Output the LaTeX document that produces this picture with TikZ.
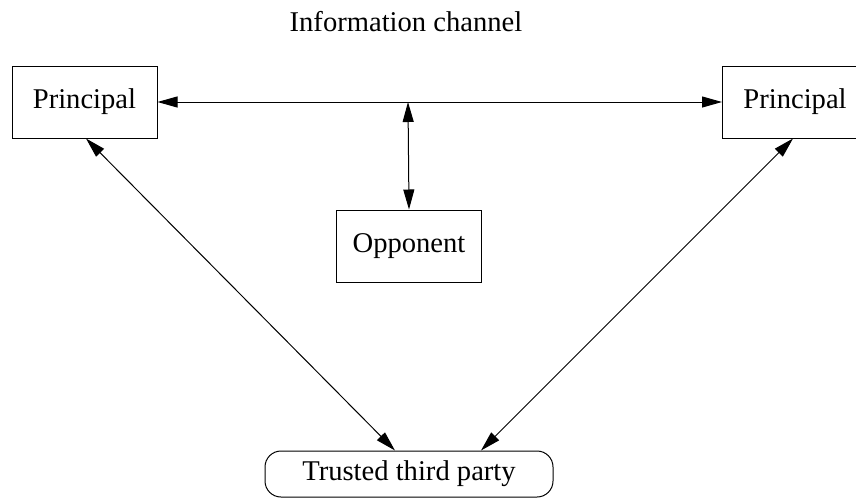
\documentclass[tikz,border=0pt]{standalone}
\usepackage{fontspec}
\setmainfont{Liberation Serif}
\usetikzlibrary{arrows.meta,calc}
\begin{document}
\begin{tikzpicture}[x=0.5pt,y=-0.5pt,
  every node/.style={font=\fontsize{14.3}{17}\selectfont, inner sep=0pt},
  box/.style={draw, line width=0.5pt, minimum width=72.5pt, minimum height=36pt},
  ttpbox/.style={draw, line width=0.5pt, rounded corners=8pt, minimum width=144pt, minimum height=23pt},
  link/.style={line width=0.5pt, {Triangle[length=10pt,width=5.5pt]}-{Triangle[length=10pt,width=5.5pt]}}]
  \clip (0,0) rectangle (856,498);
  \useasboundingbox (0,0) rectangle (856,498);

  % parties
  \node[box] (lp) at (84.5,102) {Principal};
  \node[box] (rp) at (795,102) {Principal};
  \node[box] (opp) at (409,246) {Opponent};
  \node[ttpbox] (ttp) at (409,474) {Trusted third party};
  \node (chan) at (406,22) {Information channel};

  % information channel between the principals
  \draw[link] (lp.east) -- (rp.west);
  \coordinate (tap) at (408,102);
  \draw[link] (tap) -- (opp.north);

  % links to the trusted third party
  \draw[link] ($(lp.south)+(1.5,0)$) -- ($(ttp.north)+(-14,0)$);
  \draw[link] ($(rp.south)+(-2,0)$) -- ($(ttp.north)+(72,0)$);
\end{tikzpicture}
\end{document}
